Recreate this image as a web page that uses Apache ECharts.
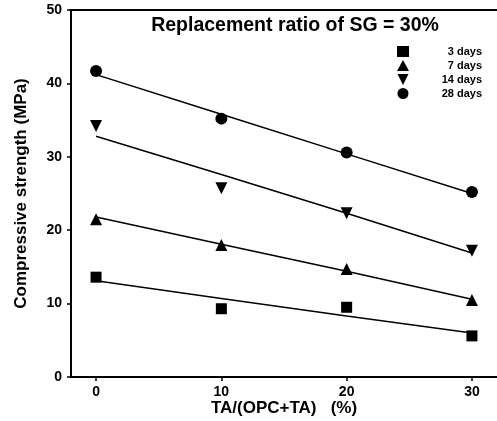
<!DOCTYPE html>
<html>
<head>
<meta charset="utf-8">
<script src="https://cdn.jsdelivr.net/npm/echarts@6/dist/echarts.min.js"></script>
<style>
  html, body { margin: 0; padding: 0; background: #fff; }
  #chart { width: 497px; height: 421px; }
</style>
</head>
<body>
<div id="chart"></div>
<script>
// TA/(OPC+TA) ratio, %
var ratios = [0, 10, 20, 30];
var yTicks = [0, 10, 20, 30, 40, 50];

// measured compressive strength (MPa)
var day3 = [13.6, 9.3, 9.5, 5.6];
var day7 = [21.5, 18.0, 14.7, 10.5];
var day14 = [34.2, 25.7, 22.3, 17.2];
var day28 = [41.7, 35.2, 30.6, 25.2];

// fitted lines
var fit3 = [13.1, 10.7, 8.3, 6.0];
var fit7 = [21.8, 18.1, 14.4, 10.6];
var fit14 = [32.8, 27.6, 22.3, 16.9];
var fit28 = [41.2, 35.8, 30.4, 25.0];

var FONT = '"Liberation Sans", Arial, sans-serif';

var pairs = function(ys){
  return ratios.map(function(x, i){ return [x, ys[i]]; });
};

var scatter = function(name, ys, symbol, size, rotate){
  return {
    name: name,
    type: 'scatter',
    data: pairs(ys),
    symbol: symbol,
    symbolSize: size,
    symbolRotate: rotate || 0,
    itemStyle: { color: '#000', opacity: 1 },
    z: 3
  };
};

var fitLine = function(name, ys){
  return {
    name: name,
    type: 'line',
    data: pairs(ys),
    showSymbol: false,
    symbol: 'none',
    lineStyle: { color: '#000', width: 1.5 },
    silent: true,
    z: 2
  };
};

var myChart = echarts.init(document.getElementById('chart'));

myChart.setOption({
  backgroundColor: '#fff',
  animation: false,
  textStyle: { fontFamily: FONT },
  title: {
    text: 'Replacement ratio of SG = 30%',
    left: 290,
    top: 11,
    textAlign: 'center',
    textStyle: { fontFamily: FONT, fontWeight: 'bold', fontSize: 19.5, color: '#000' }
  },
  legend: {
    orient: 'vertical',
    left: 392,
    top: 41,
    itemWidth: 12,
    itemHeight: 11,
    itemGap: 3,
    data: [
      { name: '3 days', icon: 'rect' },
      { name: '7 days', icon: 'triangle' },
      { name: '14 days', icon: 'path://M0,0 L10,0 L5,10 Z' },
      { name: '28 days', icon: 'circle' }
    ],
    formatter: '{r|{name}}',
    textStyle: {
      fontFamily: FONT, fontWeight: 'bold', fontSize: 11, color: '#000',
      rich: {
        r: { width: 68, align: 'right', fontFamily: FONT, fontWeight: 'bold', fontSize: 11, color: '#000' }
      }
    }
  },
  grid: { left: 71, right: 0, top: 10, bottom: 44, outerBoundsMode: 'none', containLabel: false },
  xAxis: [{
    type: 'value',
    min: -2,
    max: 32,
    name: 'TA/(OPC+TA)   (%)',
    nameLocation: 'middle',
    nameGap: 23,
    nameMoveOverlap: false,
    nameTextStyle: { fontFamily: FONT, fontWeight: 'bold', fontSize: 17, color: '#000' },
    axisLine: { onZero: false, lineStyle: { color: '#000', width: 2 } },
    axisTick: { show: true, customValues: ratios, length: 4, lineStyle: { color: '#000', width: 1.5 } },
    axisLabel: {
      customValues: ratios,
      margin: 8,
      fontFamily: FONT, fontWeight: 'bold', fontSize: 14, color: '#000'
    },
    splitLine: { show: false }
  }, {
    type: 'value',
    position: 'top',
    min: -2,
    max: 32,
    axisLine: { show: true, onZero: false, lineStyle: { color: '#000', width: 2 } },
    axisTick: { show: false },
    axisLabel: { show: false },
    splitLine: { show: false }
  }],
  yAxis: {
    type: 'value',
    min: 0,
    max: 50,
    interval: 10,
    name: 'Compressive strength (MPa)',
    nameLocation: 'middle',
    nameGap: 41,
    nameTextStyle: { fontFamily: FONT, fontWeight: 'bold', fontSize: 17, color: '#000' },
    axisLine: { show: true, onZero: false, lineStyle: { color: '#000', width: 2 } },
    axisTick: { show: true, length: 4, lineStyle: { color: '#000', width: 1.5 } },
    axisLabel: {
      customValues: yTicks,
      margin: 9,
      fontFamily: FONT, fontWeight: 'bold', fontSize: 14, color: '#000'
    },
    splitLine: { show: false }
  },
  series: [
    scatter('3 days', day3, 'rect', 11),
    scatter('7 days', day7, 'triangle', 12),
    scatter('14 days', day14, 'triangle', 12, 180),
    scatter('28 days', day28, 'circle', 12),
    fitLine('fit 3', fit3),
    fitLine('fit 7', fit7),
    fitLine('fit 14', fit14),
    fitLine('fit 28', fit28)
  ]
});
</script>
</body>
</html>
